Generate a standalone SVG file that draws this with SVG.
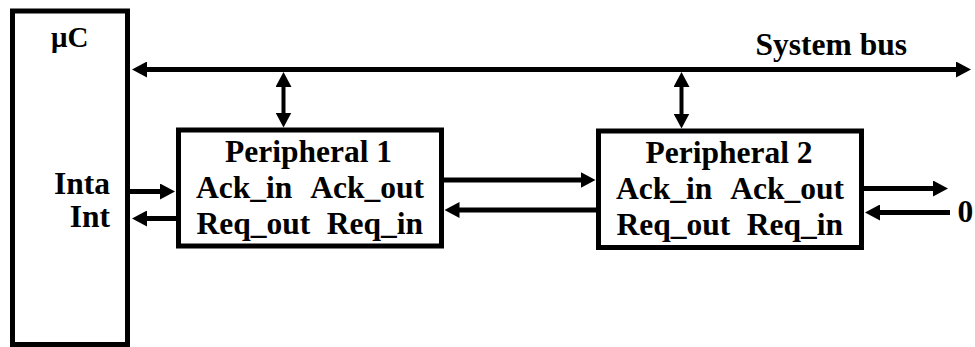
<svg xmlns="http://www.w3.org/2000/svg" width="975" height="347" viewBox="0 0 975 347">
<style>
.box{fill:#fff;stroke:#000;stroke-width:5}
.t{font-family:"Liberation Serif","Times New Roman",serif;font-weight:bold;font-size:31.5px;fill:#000}
.c{stroke:#000;stroke-width:5;fill:none}
.v{stroke:#000;stroke-width:4;fill:none}
</style>
<defs>
<marker id="ah" viewBox="0 0 15 16" refX="1" refY="8" markerWidth="15" markerHeight="16" markerUnits="userSpaceOnUse" orient="auto-start-reverse">
<path d="M0,0 L15,8 L0,16 z" fill="#000"/>
</marker>
</defs>
<rect width="975" height="347" fill="#fff"/>
<g id="uc">
<rect class="box" x="12.5" y="11" width="115" height="333.5"/>
<text class="t" x="51" y="46.5" style="font-size:29px">μC</text>
<text class="t" x="110" y="193.5" text-anchor="end">Inta</text>
<text class="t" x="110" y="226.5" text-anchor="end">Int</text>
</g>
<g id="p1">
<rect class="box" x="178.5" y="130" width="263" height="116"/>
<text class="t" x="308.5" y="161.5" text-anchor="middle">Peripheral 1</text>
<text class="t" x="196" y="197.5">Ack_in</text>
<text class="t" x="424" y="197.5" text-anchor="end">Ack_out</text>
<text class="t" x="196.5" y="233.5">Req_out</text>
<text class="t" x="423" y="233.5" text-anchor="end">Req_in</text>
</g>
<g id="p2">
<rect class="box" x="598.5" y="131" width="263" height="116.5"/>
<text class="t" x="729" y="162.5" text-anchor="middle">Peripheral 2</text>
<text class="t" x="616" y="199">Ack_in</text>
<text class="t" x="844" y="199" text-anchor="end">Ack_out</text>
<text class="t" x="616.5" y="235">Req_out</text>
<text class="t" x="843" y="235" text-anchor="end">Req_in</text>
</g>
<g id="labels">
<text class="t" x="907" y="55" text-anchor="end">System bus</text>
<text class="t" x="957.5" y="222">0</text>
</g>
<g id="connectors">
<line class="c" x1="146" y1="69.5" x2="957" y2="69.5" marker-start="url(#ah)" marker-end="url(#ah)"/>
<line class="v" x1="283.5" y1="86" x2="283.5" y2="113.5" marker-start="url(#ah)" marker-end="url(#ah)"/>
<line class="v" x1="681.5" y1="86" x2="681.5" y2="114.5" marker-start="url(#ah)" marker-end="url(#ah)"/>
<line class="c" x1="130" y1="191.5" x2="161" y2="191.5" marker-end="url(#ah)"/>
<line class="c" x1="176" y1="218.5" x2="146" y2="218.5" marker-end="url(#ah)"/>
<line class="c" x1="444" y1="180" x2="581.5" y2="180" marker-end="url(#ah)"/>
<line class="c" x1="596" y1="210" x2="458.5" y2="210" marker-end="url(#ah)"/>
<line class="c" x1="864" y1="188.5" x2="934" y2="188.5" marker-end="url(#ah)"/>
<line class="c" x1="950" y1="212.5" x2="879" y2="212.5" marker-end="url(#ah)"/>
</g>
</svg>
